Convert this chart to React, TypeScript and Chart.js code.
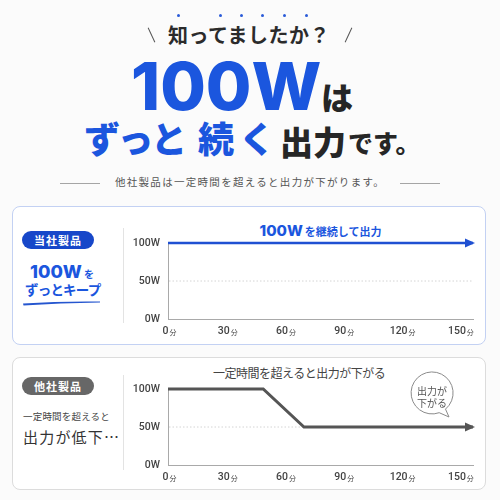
import React, { useEffect, useRef } from 'react';
import { Chart, registerables } from 'chart.js';

Chart.register(...registerables);

// minutes on the x axis, watts on the y axis
const xTicks = [0, 30, 60, 90, 120, 150];
const yTicks = [0, 50, 100];
const xMax = 157;
const guideWatts = 50;

// our product keeps 100W
const ourMinutes = [0, 157];
const ourWatts = [100, 100];

// other product drops to 50W
const otherMinutes = [0, 49, 70, 157];
const otherWatts = [100, 100, 50, 50];

const BLUE = '#1b56de';
const LINE_BLUE = '#1f50d2';
const DARK = '#262626';
const JP = '"Noto Sans CJK JP", "Noto Sans", sans-serif';
const NUM = 'Inter, Roboto, sans-serif';
const TICK = 'Roboto, "Noto Sans", sans-serif';

const guidePlugin = {
  id: 'guide',
  beforeDatasetsDraw(chart: any) {
    const { ctx, chartArea, scales } = chart;
    const y = scales.y.getPixelForValue(guideWatts);
    ctx.save();
    ctx.strokeStyle = '#d4d4d4';
    ctx.lineWidth = 1;
    ctx.setLineDash([1.5, 2]);
    ctx.beginPath();
    ctx.moveTo(chartArea.left + 1, y);
    ctx.lineTo(chartArea.right, y);
    ctx.stroke();
    ctx.restore();
  },
};

const arrowPlugin = {
  id: 'arrow',
  afterDatasetsDraw(chart: any) {
    const meta = chart.getDatasetMeta(0);
    const last = meta.data[meta.data.length - 1];
    const color = chart.data.datasets[0].borderColor;
    const { ctx } = chart;
    ctx.save();
    ctx.fillStyle = color;
    ctx.beginPath();
    ctx.moveTo(last.x + 2, last.y);
    ctx.lineTo(last.x - 8, last.y - 4.5);
    ctx.lineTo(last.x - 8, last.y + 4.5);
    ctx.closePath();
    ctx.fill();
    ctx.restore();
  },
};

const xLabelPlugin = {
  id: 'xLabels',
  afterDraw(chart: any) {
    const { ctx, chartArea, scales } = chart;
    const y = chartArea.bottom + 12;
    ctx.save();
    ctx.textBaseline = 'middle';
    ctx.fillStyle = '#444';
    xTicks.forEach((v) => {
      const px = scales.x.getPixelForValue(v) + 1.5;
      const num = String(v);
      ctx.font = `500 10.5px ${TICK}`;
      const w1 = ctx.measureText(num).width;
      ctx.font = `7px ${JP}`;
      const w2 = ctx.measureText('分').width;
      const start = px - (w1 + 1 + w2) / 2;
      ctx.font = `500 10.5px ${TICK}`;
      ctx.fillText(num, start, y);
      ctx.font = `7px ${JP}`;
      ctx.fillText('分', start + w1 + 1, y + 1);
    });
    ctx.restore();
  },
};

interface PowerChartProps {
  xs: number[];
  ys: number[];
  color: string;
  width: number;
  top: number;
}

const PowerChart: React.FC<PowerChartProps> = ({ xs, ys, color, width, top }) => {
  const canvasRef = useRef<HTMLCanvasElement>(null);

  useEffect(() => {
    if (!canvasRef.current) return;
    const chart = new Chart(canvasRef.current, {
      type: 'line',
      data: {
        datasets: [
          {
            data: xs.map((x, i) => ({ x, y: ys[i] })),
            borderColor: color,
            borderWidth: width,
            pointRadius: 0,
            tension: 0,
            fill: false,
            clip: false as any,
            borderJoinStyle: 'miter',
          },
        ],
      },
      options: {
        animation: false,
        responsive: true,
        maintainAspectRatio: false,
        layout: { padding: { top: 10, right: 12, left: 0, bottom: 0 } },
        plugins: { legend: { display: false }, tooltip: { enabled: false } },
        scales: {
          x: {
            type: 'linear',
            min: 0,
            max: xMax,
            afterBuildTicks: (s: any) => {
              s.ticks = xTicks.map((v) => ({ value: v }));
            },
            ticks: { display: false },
            grid: { display: false },
            border: { color: '#a9a9a9', width: 1 },
            afterFit: (s: any) => {
              s.height = 21;
            },
          },
          y: {
            min: 0,
            max: 100,
            afterBuildTicks: (s: any) => {
              s.ticks = yTicks.map((v) => ({ value: v }));
            },
            ticks: {
              callback: (v: any) => v + 'W',
              font: { family: TICK, size: 10.5, weight: 500 },
              color: '#444',
              padding: 0,
            },
            grid: { display: false },
            border: { color: '#a9a9a9', width: 1 },
            afterFit: (s: any) => {
              s.width = 48;
            },
          },
        },
      },
      plugins: [guidePlugin, arrowPlugin, xLabelPlugin],
    });
    return () => chart.destroy();
  }, [xs, ys, color, width]);

  return (
    <div style={{ position: 'absolute', left: 120, top, width: 365, height: 107 }}>
      <canvas ref={canvasRef} />
    </div>
  );
};

const abs = (left: number, top: number, extra: React.CSSProperties = {}): React.CSSProperties => ({
  position: 'absolute',
  left,
  top,
  lineHeight: 1,
  whiteSpace: 'nowrap',
  fontFamily: JP,
  ...extra,
});

const dotXs = [178, 220, 241, 262, 284, 306];

export default function App() {
  return (
    <div
      style={{
        position: 'fixed',
        left: 0,
        top: 0,
        width: 500,
        height: 500,
        background: '#fbfbfb',
        overflow: 'hidden',
        fontFamily: JP,
      }}
    >
      {/* heading */}
      {dotXs.map((x) => (
        <div
          key={x}
          style={{ position: 'absolute', left: x - 1.5, top: 14, width: 3, height: 3, borderRadius: 2, background: '#2a5bd8' }}
        />
      ))}
      <div style={{ position: 'absolute', left: 151, top: 27, width: 1, height: 16, background: '#555', transform: 'rotate(-25deg)' }} />
      <div style={{ position: 'absolute', left: 348, top: 27, width: 1, height: 16, background: '#555', transform: 'rotate(25deg)' }} />
      <div style={abs(168, 25, { fontSize: 20, fontWeight: 700, color: '#2b2b2b', letterSpacing: 0.5 })}>知ってましたか？</div>

      <div style={abs(131, 53, { fontFamily: NUM, fontSize: 66, fontWeight: 800, color: BLUE })}>100W</div>
      <div style={abs(321, 80, { fontSize: 32, fontWeight: 900, color: DARK })}>は</div>

      <div style={abs(84, 119, { fontSize: 36, fontWeight: 900, color: BLUE, letterSpacing: -2.5 })}>ずっと</div>
      <div style={abs(198, 119, { fontSize: 36, fontWeight: 900, color: BLUE, letterSpacing: 5 })}>続く</div>
      <div style={abs(280, 125, { fontSize: 33, fontWeight: 900, color: DARK })}>出力</div>
      <div style={abs(348, 130, { fontSize: 25, fontWeight: 900, color: DARK })}>です。</div>

      <div style={{ position: 'absolute', left: 60, top: 183, width: 40, height: 1, background: '#a5a5a5' }} />
      <div style={{ position: 'absolute', left: 400, top: 183, width: 40, height: 1, background: '#a5a5a5' }} />
      <div style={abs(0, 177, { width: 500, textAlign: 'center', fontSize: 10.5, color: '#555', letterSpacing: 1.3 })}>
        他社製品は一定時間を超えると出力が下がります。
      </div>

      {/* panel 1 */}
      <div
        style={{
          position: 'absolute',
          left: 12,
          top: 206,
          width: 474,
          height: 139,
          border: '1px solid #c3d1f3',
          borderRadius: 8,
          background: '#fff',
          boxSizing: 'border-box',
        }}
      />
      <div
        style={abs(22, 231, {
          width: 72,
          height: 18,
          lineHeight: '18px',
          borderRadius: 9,
          background: '#1747c9',
          color: '#fff',
          fontSize: 11,
          fontWeight: 700,
          textAlign: 'center',
          letterSpacing: 1,
        })}
      >
        当社製品
      </div>
      <div style={abs(30, 261.5, { lineHeight: '18px', color: BLUE })}>
        <span style={{ fontFamily: NUM, fontSize: 18, fontWeight: 800 }}>100W</span>
        <span style={{ fontSize: 10, fontWeight: 700, marginLeft: 2 }}>を</span>
      </div>
      <div style={abs(25, 283, { fontSize: 13.5, fontWeight: 700, color: BLUE, letterSpacing: -0.8 })}>ずっとキープ</div>
      <svg style={{ position: 'absolute', left: 0, top: 0 }} width={500} height={500}>
        <path d="M23 303.5 Q60 301 100 301.5 L100 302.5 Q60 303 23.5 305.5 Z" fill="#2556cf" />
      </svg>
      <div style={{ position: 'absolute', left: 123, top: 228, width: 1, height: 95, background: '#e3e3e3' }} />
      <div style={abs(168, 221, { width: 305, textAlign: 'center', color: BLUE, lineHeight: '16px' })}>
        <span style={{ fontFamily: NUM, fontSize: 15, fontWeight: 800 }}>100W</span>
        <span style={{ fontSize: 11, fontWeight: 700, marginLeft: 2 }}>を継続して出力</span>
      </div>
      <PowerChart xs={ourMinutes} ys={ourWatts} color={LINE_BLUE} width={2.5} top={233} />

      {/* panel 2 */}
      <div
        style={{
          position: 'absolute',
          left: 12,
          top: 357,
          width: 474,
          height: 133,
          border: '1px solid #dcdcdc',
          borderRadius: 8,
          background: '#fff',
          boxSizing: 'border-box',
        }}
      />
      <div
        style={abs(22, 377, {
          width: 72,
          height: 18,
          lineHeight: '18px',
          borderRadius: 9,
          background: '#676767',
          color: '#fff',
          fontSize: 11,
          fontWeight: 700,
          textAlign: 'center',
          letterSpacing: 1,
        })}
      >
        他社製品
      </div>
      <div style={abs(23, 412, { fontSize: 9.5, color: '#444', letterSpacing: 0.2 })}>一定時間を超えると</div>
      <div style={abs(23, 429, { fontSize: 15, color: '#333', letterSpacing: 1.2 })}>出力が低下…</div>
      <div style={{ position: 'absolute', left: 123, top: 375, width: 1, height: 95, background: '#e3e3e3' }} />
      <div style={abs(213, 367, { fontSize: 12, color: '#444', letterSpacing: -0.5 })}>一定時間を超えると出力が下がる</div>
      <PowerChart xs={otherMinutes} ys={otherWatts} color="#555555" width={3} top={379} />
      <svg style={{ position: 'absolute', left: 0, top: 0 }} width={500} height={500}>
        <path
          d="M 439.2 412.7 L 449 417 L 445.5 409.1 A 21 21 0 1 0 439.2 412.7 Z"
          fill="#fff"
          stroke="#8a8a8a"
          strokeWidth={1}
        />
      </svg>
      <div style={abs(411, 385, { width: 42, textAlign: 'center', fontSize: 10, color: '#555', lineHeight: '11.5px' })}>
        出力が
        <br />
        下がる
      </div>
    </div>
  );
}
